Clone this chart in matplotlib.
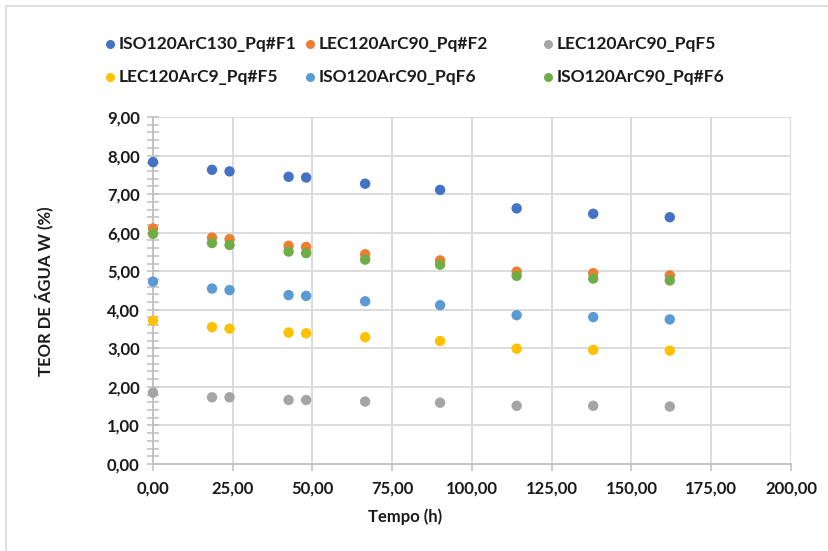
import matplotlib
matplotlib.use("Agg")
import matplotlib.pyplot as plt
from matplotlib.patches import Rectangle
from matplotlib.lines import Line2D
from matplotlib.ticker import MultipleLocator, FuncFormatter

plt.rcParams['font.family'] = ['Lato', 'DejaVu Sans']
plt.rcParams['font.weight'] = 'bold'

tempo = [0, 18.5, 24, 42.5, 48, 66.5, 90, 114, 138, 162]

series_names = ["ISO120ArC130_Pq#F1", "LEC120ArC90_Pq#F2", "LEC120ArC90_PqF5",
                "LEC120ArC9_Pq#F5", "ISO120ArC90_PqF6", "ISO120ArC90_Pq#F6"]
iso130_f1 = [7.83, 7.63, 7.59, 7.45, 7.43, 7.27, 7.11, 6.63, 6.49, 6.40]
lec90_f2 = [6.11, 5.87, 5.83, 5.66, 5.63, 5.44, 5.28, 4.99, 4.95, 4.89]
lec90_f5 = [1.85, 1.73, 1.73, 1.66, 1.66, 1.62, 1.59, 1.51, 1.51, 1.49]
lec9_f5 = [3.72, 3.55, 3.51, 3.41, 3.39, 3.29, 3.19, 2.99, 2.96, 2.94]
iso90_f6 = [4.73, 4.55, 4.51, 4.38, 4.36, 4.22, 4.12, 3.86, 3.81, 3.75]
iso90_pf6 = [5.97, 5.73, 5.68, 5.51, 5.47, 5.30, 5.17, 4.88, 4.81, 4.76]
series_values = [iso130_f1, lec90_f2, lec90_f5, lec9_f5, iso90_f6, iso90_pf6]
colors = ["#4472C4", "#ED7D31", "#A5A5A5", "#FFC000", "#5B9BD5", "#70AD47"]

W, H = 829, 551
fig = plt.figure(figsize=(W / 100, H / 100), dpi=100)
ax = fig.add_axes([153 / W, 1 - 464 / H, (791 - 153) / W, (464 - 117) / H])

# chart-area border
fig.patches.append(Rectangle((6 / W, -0.01), 1.0, 1 - 6 / H + 0.01, transform=fig.transFigure,
                             fill=False, edgecolor="#D9D9D9", lw=1.2, zorder=0))

for name, vals, c in zip(series_names, series_values, colors):
    ax.scatter(tempo, vals, s=56, color=c, edgecolors="none", zorder=3, clip_on=False)

ax.set_xlim(0, 200)
ax.set_ylim(0, 9)
ax.xaxis.set_major_locator(MultipleLocator(25))
ax.yaxis.set_major_locator(MultipleLocator(1))
ax.yaxis.set_minor_locator(MultipleLocator(0.2))
fmt = FuncFormatter(lambda v, p: f"{v:.2f}".replace(".", ","))
ax.xaxis.set_major_formatter(fmt)
ax.yaxis.set_major_formatter(fmt)

ax.grid(True, which="major", color="#D9D9D9", lw=1.3, zorder=0)
for s in ["top", "right"]:
    ax.spines[s].set_visible(False)
for s in ["left", "bottom"]:
    ax.spines[s].set_color("#BFBFBF")
    ax.spines[s].set_linewidth(1.3)

ax.tick_params(axis="y", which="both", direction="inout", length=9, width=1.1,
               color="#BFBFBF", labelsize=12, pad=5, labelcolor="#1a1a1a")
ax.tick_params(axis="x", which="major", direction="out", length=5, width=1.1,
               color="#BFBFBF", labelsize=12, pad=7, labelcolor="#1a1a1a")
for lab in ax.get_xticklabels() + ax.get_yticklabels():
    lab.set_fontweight("bold")

fig.text(405 / W, 1 - 517 / H, "Tempo (h)", fontsize=12, fontweight="bold",
         color="#1a1a1a", ha="center", va="center")
fig.text(44 / W, 1 - 291 / H, "TEOR DE ÁGUA W (%)", fontsize=12, fontweight="bold",
         color="#1a1a1a", ha="center", va="center", rotation=90)

# legend laid out as two rows of three entries
leg_x = [110, 310, 548]
leg_y = [44, 77]
for i, (name, c) in enumerate(zip(series_names, colors)):
    row, col = divmod(i, 3)
    fx, fy = leg_x[col] / W, 1 - leg_y[row] / H
    fig.add_artist(Line2D([fx], [fy], ls="none", marker="o", markersize=6.5, color=c,
                          markeredgewidth=0, transform=fig.transFigure))
    fig.text(fx + 9 / W, fy, name, fontsize=12.5, fontweight="bold", color="#1a1a1a",
             ha="left", va="center")

fig.savefig("out.png", dpi=100, facecolor="white")
